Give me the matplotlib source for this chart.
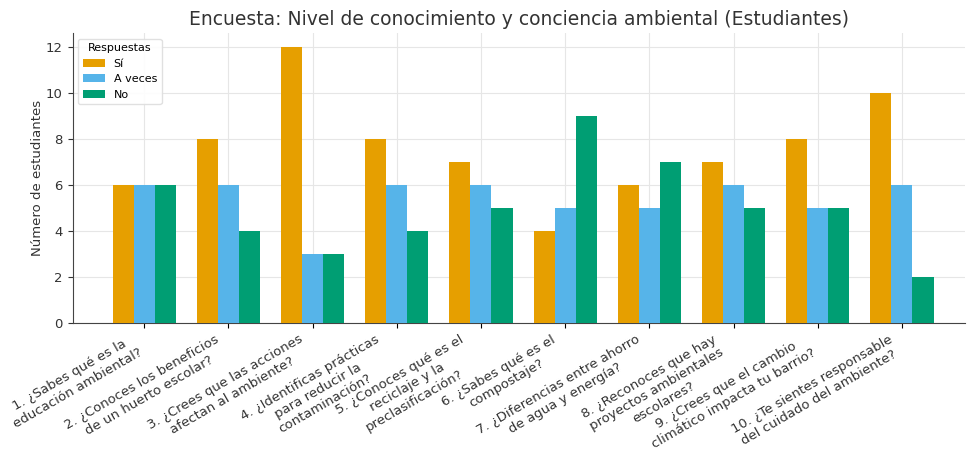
import matplotlib
matplotlib.use("Agg")
import matplotlib.pyplot as plt
import numpy as np

categories = [
    "1. ¿Sabes qué es la\neducación ambiental?",
    "2. ¿Conoces los beneficios\nde un huerto escolar?",
    "3. ¿Crees que las acciones\nafectan al ambiente?",
    "4. ¿Identificas prácticas\npara reducir la\ncontaminación?",
    "5. ¿Conoces qué es el\nreciclaje y la\npreclasificación?",
    "6. ¿Sabes qué es el\ncompostaje?",
    "7. ¿Diferencias entre ahorro\nde agua y energía?",
    "8. ¿Reconoces que hay\nproyectos ambientales\nescolares?",
    "9. ¿Crees que el cambio\nclimático impacta tu barrio?",
    "10. ¿Te sientes responsable\ndel cuidado del ambiente?",
]
si = [6, 8, 12, 8, 7, 4, 6, 7, 8, 10]
a_veces = [6, 6, 3, 6, 6, 5, 5, 6, 5, 6]
no = [6, 4, 3, 4, 5, 9, 7, 5, 5, 2]
series_names = ["Sí", "A veces", "No"]
colors = ["#E69F00", "#56B4E9", "#009E73"]

fig = plt.figure(figsize=(9.68, 4.59), dpi=100)
ax = fig.add_axes([0.075, 0.296, 0.922, 0.632])

x = np.arange(len(categories))
w = 0.25
for i, (vals, name, c) in enumerate(zip([si, a_veces, no], series_names, colors)):
    ax.bar(x + (i - 1) * w, vals, width=w, color=c, label=name, zorder=3)

ax.set_xticks(x)
ax.set_xticklabels(categories, rotation=30, ha="right",
                   fontsize=9.5, multialignment="center", color="#333333")
ax.set_xlim(-0.85, 9.75)
ax.set_ylim(0, 12.6)
ax.set_yticks([0, 2, 4, 6, 8, 10, 12])
ax.tick_params(axis="y", labelsize=9.5, colors="#333333")
ax.set_ylabel("Número de estudiantes", fontsize=9.5, color="#333333", labelpad=1)
ax.set_title("Encuesta: Nivel de conocimiento y conciencia ambiental (Estudiantes)",
             fontsize=13.5, color="#333333", pad=6)
ax.grid(True, color="#e6e6e6", linewidth=0.8, zorder=0)
ax.set_axisbelow(True)
for s in ["top", "right"]:
    ax.spines[s].set_visible(False)
for s in ["left", "bottom"]:
    ax.spines[s].set_color("#444444")

leg = ax.legend(title="Respuestas", loc="upper left", fontsize=8, title_fontsize=8,
                frameon=True, framealpha=0.9, edgecolor="#dddddd")

fig.savefig("out.png", dpi=100)
